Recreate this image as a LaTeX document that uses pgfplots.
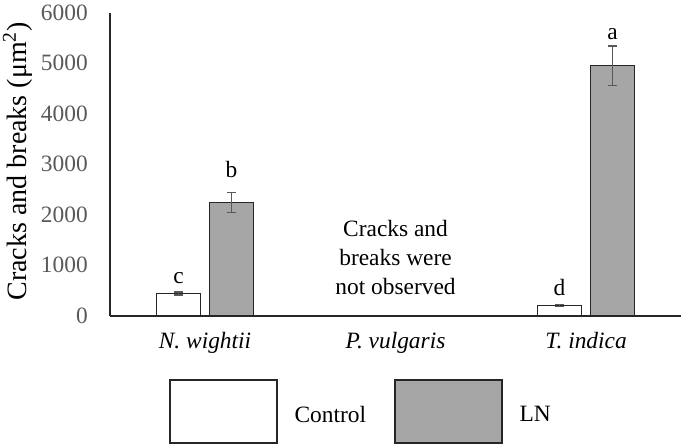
\documentclass[border=0pt]{standalone}
\usepackage{fontspec}
\setmainfont{Liberation Serif}
\usepackage{pgfplots}
\pgfplotsset{compat=1.18}
\definecolor{lnfill}{HTML}{A6A6A6}
\definecolor{edge}{HTML}{262626}
\definecolor{errc}{HTML}{595959}
\definecolor{tickc}{HTML}{595959}
\newcommand{\fnt}{\fontsize{11.7}{14.5}\selectfont}
\begin{document}
\begin{tikzpicture}
\path[use as bounding box] (-54.9pt,-65.15pt) rectangle (287.6pt,157.85pt);
\begin{axis}[
  at={(0pt,0pt)}, anchor=south west,
  scale only axis, width=285.75pt, height=151.5pt,
  xmin=-0.5, xmax=2.5, ymin=0, ymax=6000,
  axis lines=left, axis line style={-, draw=edge, line width=0.8pt},
  ybar, bar width=22pt,
  xtick={0,1,2},
  xticklabels={\textit{N. wightii}, \textit{P. vulgaris}, \textit{T. indica}},
  ytick={0,1000,...,6000},
  major tick length=0pt, tick style={draw=none},
  scaled y ticks=false,
  /pgf/number format/assume math mode=true,
  /pgf/number format/1000 sep={},
  yticklabel style={font=\fnt, text=tickc, xshift=-7.5pt},
  xticklabel style={font=\fnt, text=black, yshift=-4.5pt},
  ylabel={Cracks and breaks (μm\textsuperscript{2})},
  ylabel style={font=\fontsize{14}{16}\selectfont, at={(axis description cs:-0.1613,0.51)}, anchor=center},
  legend columns=2,
  legend style={draw=none, fill=none, at={(0,0)}, anchor=north west,
    xshift=29.6pt, yshift=-31.65pt, inner sep=0pt, outer sep=0pt, font=\fnt,
    nodes={inner sep=0pt},
    /tikz/every odd column/.append style={column sep=8.5pt},
    /tikz/every even column/.append style={column sep=14pt}},
  legend image code/.code={\draw[#1] (0pt,-13.5pt) rectangle (53.5pt,18pt);},
]
\addplot[ybar, bar shift=-13.25pt, fill=white, draw=edge, line width=0.75pt,
  error bars/.cd, y dir=both, y explicit,
  error bar style={draw=errc, line width=0.75pt},
  error mark options={rotate=90, draw=errc, mark size=2.25pt, line width=0.75pt}]
  coordinates {(0,440) +- (0,30) (2,200) +- (0,20)};
\addlegendentry{Control}
\addplot[ybar, bar shift=13.25pt, fill=lnfill, draw=edge, line width=0.75pt,
  error bars/.cd, y dir=both, y explicit,
  error bar style={draw=errc, line width=0.75pt},
  error mark options={rotate=90, draw=errc, mark size=2.25pt, line width=0.75pt}]
  coordinates {(0,2238) +- (0,198) (2,4950) +- (0,390)};
\addlegendentry{LN}
\node[font=\fnt, anchor=base, xshift=-13.25pt] at (axis cs:0,647) {c};
\node[font=\fnt, anchor=base, xshift=13.25pt] at (axis cs:0,2727) {b};
\node[font=\fnt, anchor=base, xshift=-13.25pt] at (axis cs:2,410) {d};
\node[font=\fnt, anchor=base, xshift=13.25pt] at (axis cs:2,5460) {a};
\node[font=\fnt, align=center] at (axis cs:1,1150) {Cracks and\\breaks were\\not observed};
\end{axis}
\end{tikzpicture}
\end{document}
